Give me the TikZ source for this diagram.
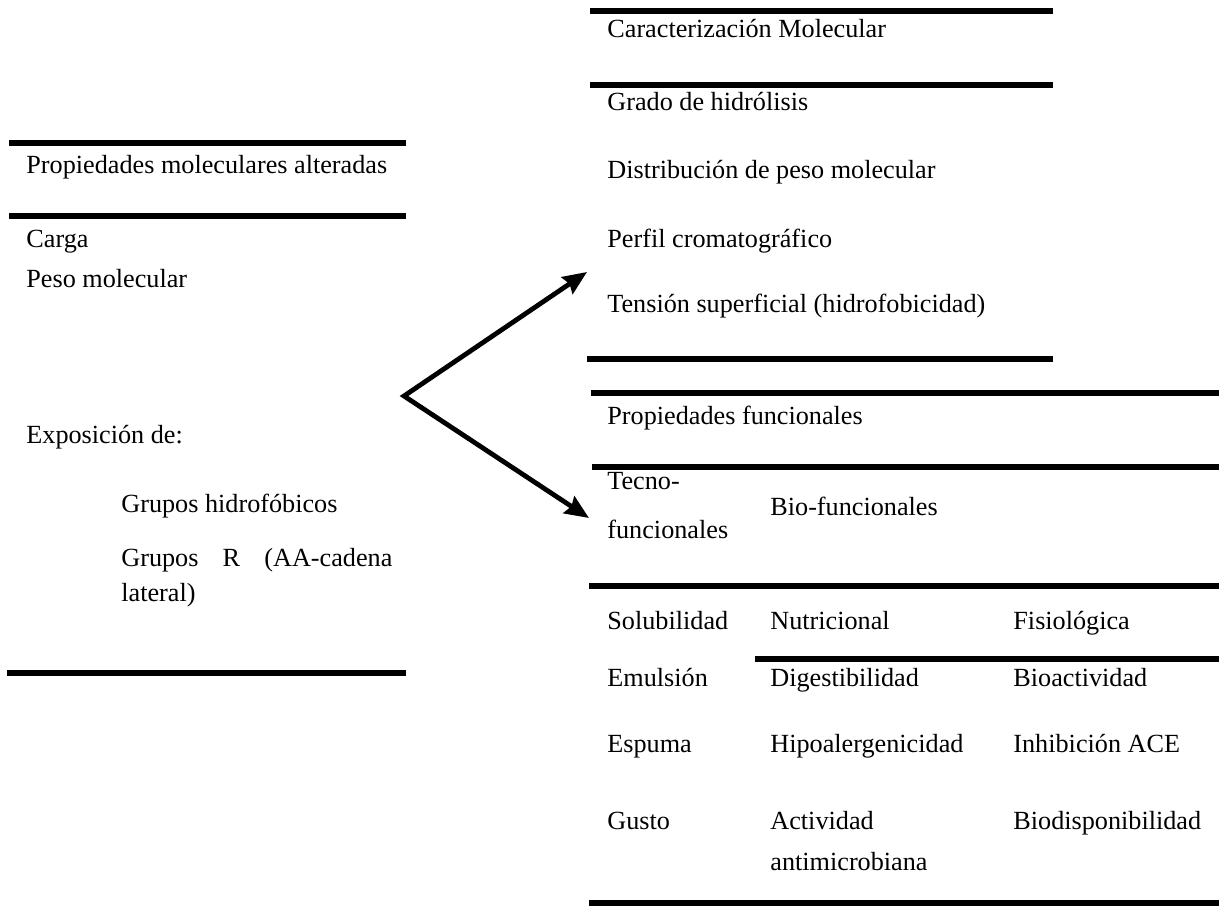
\documentclass[tikz,border=0pt]{standalone}
\usepackage{fontspec}
\setmainfont{Liberation Serif}
\usetikzlibrary{arrows.meta}
\begin{document}
\begin{tikzpicture}[x=0.5pt,y=-0.5pt,
  rule/.style={line width=3pt},
  lbl/.style={anchor=base west,inner sep=0pt,font=\fontsize{13.1}{17.5}\selectfont},
  arr/.style={line width=2.4pt,line join=miter,{Stealth[length=12pt,width=10pt,inset=1.5pt]}-{Stealth[length=12pt,width=10pt,inset=1.5pt]}}]
\useasboundingbox (0,0) rectangle (1219,915);
% left table
\draw[rule] (9,143) -- (406,143);
\draw[rule] (9,216) -- (406,216);
\draw[rule] (7,673) -- (406,673);
\node[lbl] (pma) at (26,173) {Propiedades moleculares alteradas};
\node[lbl] (carga) at (26,247) {Carga};
\node[lbl] (peso) at (26,287) {Peso molecular};
\node[lbl] (expo) at (26,443) {Exposición de:};
\node[lbl] (ghid) at (121,512) {Grupos hidrofóbicos};
\node[lbl,anchor=north west,text width=135.5pt,align=justify] (grr) at (121,548) {Grupos R (AA-cadena \mbox{lateral)}};
% arrows
\coordinate (o) at (404,396);
\coordinate (t1) at (587,272);
\coordinate (t2) at (589,518);
\draw[arr] (t1) -- (o) -- (t2);
% top right table
\draw[rule] (590,11) -- (1053,11);
\draw[rule] (590,85) -- (1053,85);
\draw[rule] (587,359) -- (1053,359);
\node[lbl] (carmol) at (607,38) {Caracterización Molecular};
\node[lbl] (grado) at (607,111) {Grado de hidrólisis};
\node[lbl] (dist) at (607,178) {Distribución de peso molecular};
\node[lbl] (perfil) at (607,247) {Perfil cromatográfico};
\node[lbl] (tens) at (607,312) {Tensión superficial (hidrofobicidad)};
% bottom right table
\draw[rule] (591,393) -- (1219,393);
\draw[rule] (592,467) -- (1219,467);
\draw[rule] (589,586) -- (1219,586);
\draw[rule] (755,659) -- (1219,659);
\draw[rule] (589,903) -- (1219,903);
\node[lbl] (pfun) at (607,424) {Propiedades funcionales};
\node[lbl] (tecno) at (607,489) {Tecno-};
\node[lbl] (tecno2) at (607,538) {funcionales};
\node[lbl] (bio) at (770,515) {Bio-funcionales};
\node[lbl] (sol) at (607,629) {Solubilidad};
\node[lbl] (nut) at (770,629) {Nutricional};
\node[lbl] (fis) at (1013,629) {Fisiológica};
\node[lbl] (emu) at (607,686) {Emulsión};
\node[lbl] (dig) at (770,686) {Digestibilidad};
\node[lbl] (bioa) at (1013,686) {Bioactividad};
\node[lbl] (esp) at (607,752) {Espuma};
\node[lbl] (hipo) at (770,752) {Hipoalergenicidad};
\node[lbl] (inh) at (1013,752) {Inhibición ACE};
\node[lbl] (gus) at (607,829) {Gusto};
\node[lbl] (act) at (770,829) {Actividad};
\node[lbl] (act2) at (770,870) {antimicrobiana};
\node[lbl] (biod) at (1013,829) {Biodisponibilidad};
\end{tikzpicture}
\end{document}
